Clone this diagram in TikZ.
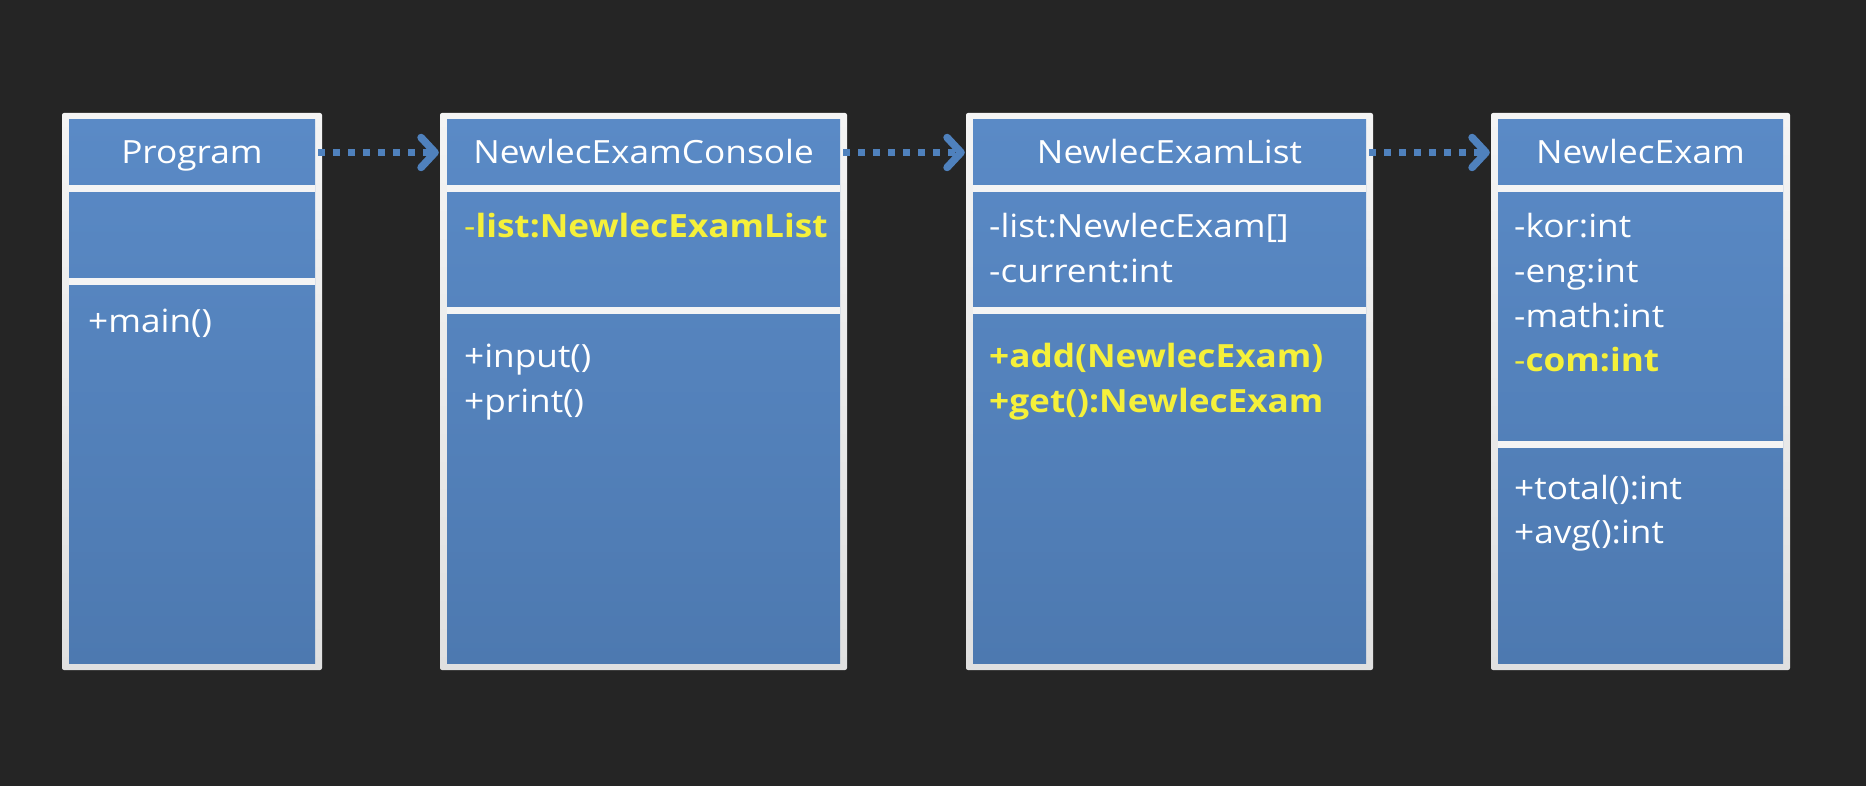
\documentclass[tikz,border=0pt]{standalone}
\usepackage{fontspec}
\setmainfont{Open Sans}[FakeStretch=1.1]
\usetikzlibrary{arrows.meta}
\definecolor{bg}{HTML}{252525}
\definecolor{boxtop}{HTML}{5A8AC6}
\definecolor{boxbot}{HTML}{4D79B0}
\definecolor{framecol}{HTML}{F4F4F4}
\definecolor{framebot}{HTML}{E0E0E0}
\definecolor{arrowblue}{HTML}{4F81BD}
\definecolor{hl}{HTML}{F5F03A}
\tikzset{
  frame/.style={top color=framecol, bottom color=framebot, draw=none, rounded corners=2pt, inner sep=0pt},
  inner/.style={top color=boxtop, bottom color=boxbot, draw=none, inner sep=0pt},
  sepbar/.style={fill=framecol, draw=none, inner sep=0pt, minimum height=7pt},
  ttl/.style={text=white, font=\fontsize{32}{38}\selectfont, inner sep=0pt, anchor=base},
  mem/.style={text=white, font=\fontsize{32}{38}\selectfont, inner sep=0pt, anchor=base west},
  hlmem/.style={text=hl, font=\fontsize{32}{38}\selectfont\bfseries, inner sep=0pt, anchor=base west},
  dep/.style={draw=arrowblue, line width=7pt, dash pattern=on 7pt off 8pt,
    -{Straight Barb[length=14pt,width=30pt,round,line width=7.5pt]}}
}
\begin{document}
\begin{tikzpicture}[x=1pt,y=-1pt]
\useasboundingbox (0,0) rectangle (1866,786);
\fill[bg] (0,0) rectangle (1866,786);

% Program
\node[frame, minimum width=260pt, minimum height=557pt] (prog) at (192,391.5) {};
\node[inner, minimum width=246pt, minimum height=543pt] (progI) at (192,391.5) {};
\node[sepbar, minimum width=246pt] (progS1) at (192,189) {};
\node[sepbar, minimum width=246pt] (progS2) at (192,281.5) {};
\coordinate (progT) at (192,152.5);
\node[ttl] (progN) at (192,164) {Program};
\node[mem] (progM1) at (88,332) {+main()};

% NewlecExamConsole
\node[frame, minimum width=407pt, minimum height=557pt] (con) at (643.5,391.5) {};
\node[inner, minimum width=393pt, minimum height=543pt] (conI) at (643.5,391.5) {};
\node[sepbar, minimum width=393pt] (conS1) at (643.5,189) {};
\node[sepbar, minimum width=393pt] (conS2) at (643.5,310.5) {};
\coordinate (conT) at (643.5,152.5);
\node[ttl] (conN) at (643.5,164) {NewlecExamConsole};
\node[hlmem] (conA1) at (464,238) {\mdseries-\bfseries list:NewlecExamList};
\node[mem] (conM1) at (464,367) {+input()};
\node[mem] (conM2) at (464,412) {+print()};

% NewlecExamList
\node[frame, minimum width=407pt, minimum height=557pt] (lst) at (1169.5,391.5) {};
\node[inner, minimum width=393pt, minimum height=543pt] (lstI) at (1169.5,391.5) {};
\node[sepbar, minimum width=393pt] (lstS1) at (1169.5,189) {};
\node[sepbar, minimum width=393pt] (lstS2) at (1169.5,310.5) {};
\coordinate (lstT) at (1169.5,152.5);
\node[ttl] (lstN) at (1169.5,164) {NewlecExamList};
\node[mem] (lstA1) at (989,238) {-list:NewlecExam[]};
\node[mem] (lstA2) at (989,283) {-current:int};
\node[hlmem] (lstM1) at (989,367) {+add(NewlecExam)};
\node[hlmem] (lstM2) at (989,412) {+get():NewlecExam};

% NewlecExam
\node[frame, minimum width=299pt, minimum height=557pt] (ex) at (1640.5,391.5) {};
\node[inner, minimum width=285pt, minimum height=543pt] (exI) at (1640.5,391.5) {};
\node[sepbar, minimum width=285pt] (exS1) at (1640.5,189) {};
\node[sepbar, minimum width=285pt] (exS2) at (1640.5,444) {};
\coordinate (exT) at (1640.5,152.5);
\node[ttl] (exN) at (1640.5,164) {NewlecExam};
\node[mem] (exA1) at (1514,238) {-kor:int};
\node[mem] (exA2) at (1514,283) {-eng:int};
\node[mem] (exA3) at (1514,327) {-math:int};
\node[hlmem] (exA4) at (1514,371.5) {\mdseries-\bfseries com:int};
\node[mem] (exM1) at (1514,499) {+total():int};
\node[mem] (exM2) at (1514,543) {+avg():int};

% dependencies
\draw[dep] ([xshift=-4pt]prog.east |- progT) -- ([xshift=-1pt]con.west |- conT);
\draw[dep] ([xshift=-4pt]con.east |- conT) -- ([xshift=-1pt]lst.west |- lstT);
\draw[dep] ([xshift=-4pt]lst.east |- lstT) -- ([xshift=-1pt]ex.west |- exT);
\end{tikzpicture}
\end{document}
